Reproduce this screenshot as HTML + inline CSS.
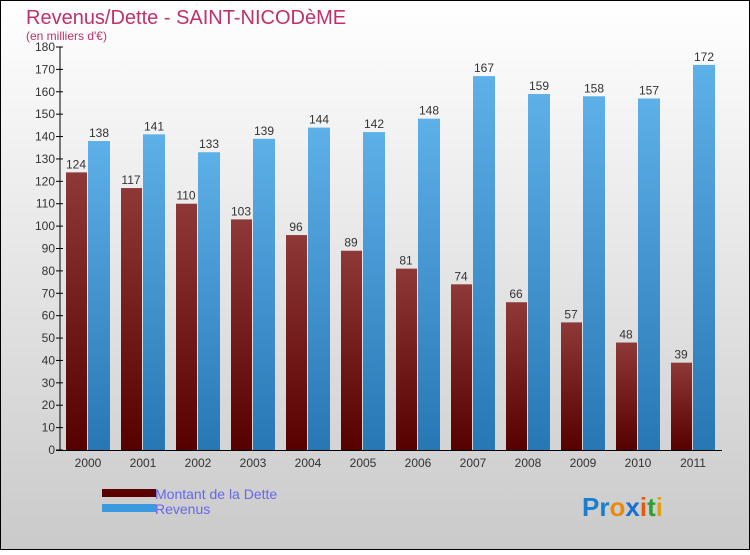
<!DOCTYPE html>
<html><head><meta charset="utf-8"><style>
html,body{margin:0;padding:0}
body{width:750px;height:550px;overflow:hidden;font-family:"Liberation Sans",sans-serif}
</style></head><body>
<svg width="750" height="550" xmlns="http://www.w3.org/2000/svg" id="svg">
<defs>
<linearGradient id="bg" x1="0" y1="0" x2="0" y2="1"><stop offset="0" stop-color="#ffffff"/><stop offset="1" stop-color="#cacaca"/></linearGradient>
<linearGradient id="gd" x1="0" y1="0" x2="0" y2="1"><stop offset="0" stop-color="#8e3838"/><stop offset="1" stop-color="#560000"/></linearGradient>
<linearGradient id="gr" x1="0" y1="0" x2="0" y2="1"><stop offset="0" stop-color="#5eb0e8"/><stop offset="1" stop-color="#2777b4"/></linearGradient>
</defs>
<rect x="0.5" y="0.5" width="749" height="549" fill="url(#bg)" stroke="#000"/>
<text x="26" y="24" font-size="20" fill="#c0306a">Revenus/Dette - SAINT-NICODèME</text>
<text x="26" y="40" font-size="12" fill="#c0306a">(en milliers d'€)</text>
<g id="plot"></g>
<g>
<rect x="102" y="489" width="54" height="8" fill="#5a0000"/>
<rect x="102" y="504" width="54" height="8" fill="#3a9ae0"/>
<text x="155" y="499" font-size="14" fill="#6666ee">Montant de la Dette</text>
<text x="155" y="514" font-size="14" fill="#6666ee">Revenus</text>
</g>
<text x="582" y="516" font-size="26" font-weight="bold"><tspan fill="#1a7fd0">Pr</tspan><tspan fill="#e88a10">o</tspan><tspan fill="#1a6fd0">x</tspan><tspan fill="#e05a10">i</tspan><tspan fill="#30a030">t</tspan><tspan fill="#e0a010">i</tspan></text>
</svg>
<script>
const years=["2000","2001","2002","2003","2004","2005","2006","2007","2008","2009","2010","2011"];
const debt=[124,117,110,103,96,89,81,74,66,57,48,39];
const revenus=[138,141,133,139,144,142,148,167,159,158,157,172];
const yTicks=[0,10,20,30,40,50,60,70,80,90,100,110,120,130,140,150,160,170,180];
const NS="http://www.w3.org/2000/svg";
const g=document.getElementById('plot');
const x0=60,x1=720,yb=450,yt=47,ymax=180;
const gw=(x1-x0)/years.length;
const y=v=>yb-(v/ymax)*(yb-yt);
function mk(t,a,txt){const e=document.createElementNS(NS,t);for(const k in a)e.setAttribute(k,a[k]);if(txt!==undefined)e.textContent=txt;g.appendChild(e);return e;}
yTicks.forEach(v=>{
 const l=mk('line',{x1:x0-4,x2:x0+3,y1:y(v),y2:y(v),stroke:'#000'});
 
 const t=mk('text',{x:x0-5,y:y(v)+4,'font-size':12,'text-anchor':'end',fill:'#333'},v);
 
});
years.forEach((yr,i)=>{
 const gx=x0+i*gw;
 const d=mk('rect',{x:gx+6,y:y(debt[i]),width:21,height:yb-y(debt[i]),fill:'url(#gd)'});
 
 const r=mk('rect',{x:gx+28,y:y(revenus[i]),width:22,height:yb-y(revenus[i]),fill:'url(#gr)'});
 
 const dl=mk('text',{x:gx+16,y:y(debt[i])-4,'font-size':12,'text-anchor':'middle',fill:'#333'},debt[i]);
 
 const rl=mk('text',{x:gx+39,y:y(revenus[i])-4,'font-size':12,'text-anchor':'middle',fill:'#333'},revenus[i]);
 
 const xl=mk('text',{x:gx+28,y:467,'font-size':12,'text-anchor':'middle',fill:'#333'},yr);
 
});
const ya=mk('line',{x1:x0,x2:x0,y1:yt,y2:yb,stroke:'#000'});

const xa=mk('line',{x1:x0-4,x2:x1+2,y1:yb+0.5,y2:yb+0.5,stroke:'#000'});

</script>
</body></html>
